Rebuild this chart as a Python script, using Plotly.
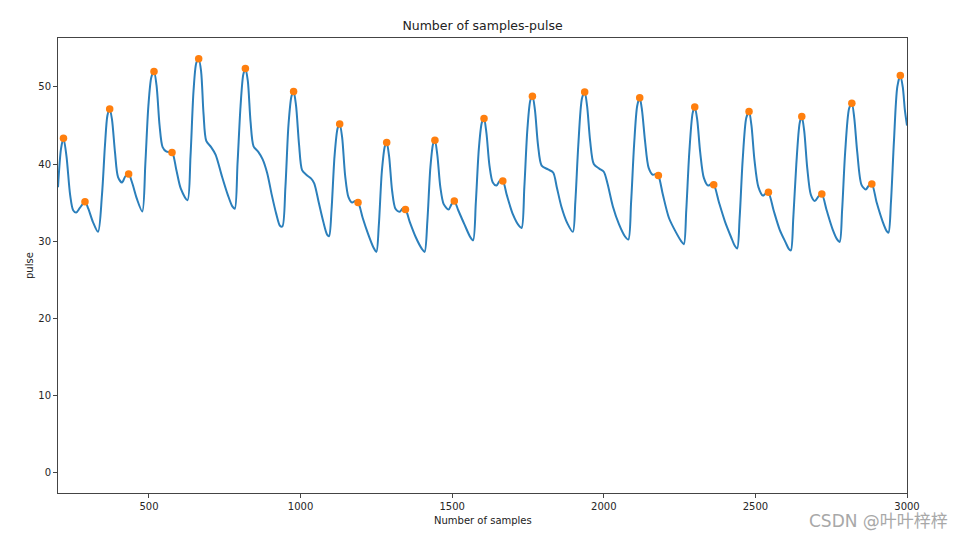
import plotly.graph_objects as go

# pulse waveform samples
sample_x = [200, 210, 218, 228, 240, 250, 260, 272, 289, 300, 315, 332, 345, 355, 363, 370.5, 378, 388, 398, 411, 422, 433, 445, 460, 478,
            488, 498, 508, 516.6, 525, 535, 545, 558, 576, 590, 605, 627, 637, 647, 656, 664, 672, 680, 689, 705, 720, 740, 760, 775, 783,
            792, 802, 811, 818, 826, 835, 845, 860, 875, 890, 905, 920, 932, 940, 950, 960, 970, 977, 985, 995, 1005, 1019, 1035, 1045,
            1060, 1075, 1088, 1094, 1102, 1112, 1122, 1129, 1137, 1147, 1158, 1170, 1180, 1190, 1205, 1222, 1240, 1250, 1258, 1268, 1278,
            1284, 1292, 1302, 1313, 1327, 1336, 1346, 1360, 1380, 1400, 1409, 1418, 1428, 1437, 1443, 1451, 1461, 1472, 1488, 1498, 1507,
            1520, 1540, 1560, 1569, 1578, 1588, 1598, 1605, 1613, 1623, 1634, 1646, 1657, 1667, 1680, 1700, 1720, 1729, 1738, 1748, 1758,
            1765, 1773, 1783, 1795, 1816, 1833, 1845, 1860, 1880, 1898, 1906, 1916, 1928, 1937, 1945, 1955, 1967, 1985, 2000, 2012, 2030,
            2050, 2070, 2081, 2090, 2100, 2110, 2118.5, 2126, 2136, 2148, 2162, 2172, 2180, 2195, 2215, 2240, 2255, 2264, 2272, 2282, 2293,
            2300, 2308, 2318, 2330, 2344, 2354, 2363, 2380, 2400, 2420, 2432, 2440, 2448, 2458, 2470, 2479, 2487, 2497, 2510, 2525, 2535,
            2543, 2560, 2580, 2600, 2610, 2617, 2625, 2635, 2646, 2653, 2661, 2671, 2683, 2696, 2708, 2719, 2735, 2755, 2770, 2778, 2786,
            2796, 2809, 2818, 2826, 2836, 2850, 2864, 2874, 2884, 2900, 2920, 2933, 2939, 2947, 2957, 2968, 2978, 2986, 2993, 3000]
pulse = [37, 42.0, 43.35, 41, 36, 34.0, 33.7, 34.3, 35.1, 34.2, 32.5, 31.2, 36, 42.5, 46.3, 47.15, 45.8, 41.5, 38.3, 37.6, 38.4, 38.7, 37.5, 35.5, 33.85,
         40, 47.5, 51.3, 52.0, 50.2, 45, 42.2, 41.6, 41.5, 39.3, 36.8, 35.3, 41, 49.5, 53.1, 53.67, 52, 46.5, 43.0, 42.2, 41.2, 38.5, 36.0, 34.5, 34.2,
         40, 47.5, 51.6, 52.4, 50.8, 45.5, 42.3, 41.6, 40.6, 38.8, 36, 33.5, 32.0, 31.9, 37, 45, 48.8, 49.4, 47.6, 42.5, 39.2, 38.6, 38.1, 37.5,
         35, 32.5, 30.8, 30.65, 34, 41, 44.6, 45.2, 43.5, 38.5, 35.7, 35.0, 35.2, 35.0, 33, 31, 29.2, 28.6, 32, 39, 42.3,
         42.8, 41, 36.5, 34.2, 33.8, 34.2, 34.1, 32.5, 30.5, 29, 28.6, 32.5, 39.5, 42.6, 43.1, 41.2, 37, 34.8, 34.1, 34.8, 35.2,
         34, 32.2, 30.5, 30.1, 35, 42, 45.4, 45.9, 44, 39.8, 37.6, 37.2, 37.8, 37.8, 36, 33.5, 32, 31.7, 37, 44.5, 48.3,
         48.8, 47, 42.5, 39.8, 39.3, 38.9, 37, 34.5, 32.3, 31.2, 35, 42.5, 48.5, 49.35, 47.5, 43, 40, 39.4, 39.0, 37.5, 34.5,
         32.2, 30.6, 30.2, 35, 42.5, 47.5, 48.6, 47, 43, 39.5, 38.6, 38.7, 38.5, 36, 33, 31, 30, 29.6, 34, 41.5, 46.6,
         47.4, 45.8, 41.5, 38.2, 37.2, 37.4, 37.3, 35, 32.5, 30.5, 29.4, 29.05, 33, 40.5, 46, 46.8, 45, 40.5, 37, 35.9, 36.2,
         36.3, 34, 31.5, 29.8, 29, 28.8, 33, 40, 45.3, 46.15, 44.3, 39.5, 36.0, 35.2, 35.8, 36.1, 34, 31.5, 30.2, 29.9, 34,
         41.5, 47.2, 47.9, 46, 41.5, 37.3, 36.7, 37.2, 37.4, 35, 32.5, 31.3, 31.1, 35, 43, 50, 51.5, 50, 47, 45]

# detected peaks (orange markers)
peak_x = [218, 289, 370.5, 433, 516.6, 576, 664, 818, 977, 1129, 1189.5, 1284, 1345.8, 1443, 1507, 1605, 1667, 1764.6, 1937,
          2118.5, 2180, 2300, 2362.6, 2479, 2543, 2653, 2719, 2818, 2884, 2978]
peak_y = [43.35, 35.1, 47.15, 38.7, 52.0, 41.5, 53.67, 52.4, 49.4, 45.2, 35.0, 42.8, 34.1, 43.1, 35.2, 45.9, 37.8, 48.8, 49.35,
          48.6, 38.5, 47.4, 37.3, 46.8, 36.35, 46.15, 36.1, 47.9, 37.4, 51.5]

x_ticks = [500, 1000, 1500, 2000, 2500, 3000]
y_ticks = [0, 10, 20, 30, 40, 50]

FONT = "DejaVu Sans"
fig = go.Figure()
fig.add_trace(go.Scatter(x=sample_x, y=pulse, mode="lines",
                         line=dict(color="#2b7fbb", width=2, shape="spline", smoothing=0.8),
                         showlegend=False, hoverinfo="skip"))
fig.add_trace(go.Scatter(x=peak_x, y=peak_y, mode="markers",
                         marker=dict(color="#ff7f0e", size=7.5, line=dict(width=0)),
                         showlegend=False, hoverinfo="skip"))

axis_common = dict(showgrid=False, zeroline=False, showline=True, linecolor="#444", linewidth=1,
                   mirror=True, ticks="outside", ticklen=4, tickwidth=1, tickcolor="#444",
                   tickfont=dict(family=FONT, size=10, color="#262626"))
fig.update_xaxes(range=[200, 3000], tickvals=x_ticks, ticktext=[str(v) for v in x_ticks], **axis_common)
fig.update_yaxes(range=[-2.68, 56.35], tickvals=y_ticks, ticktext=[str(v) for v in y_ticks], **axis_common)

fig.update_layout(
    width=966, height=537, autosize=False,
    margin=dict(l=58, r=59, t=38, b=44),
    paper_bgcolor="white", plot_bgcolor="white",
    title=dict(text="Number of samples-pulse", x=0.5, xanchor="center", xref="paper",
               y=1 - 26 / 537, yref="container", yanchor="middle",
               font=dict(family=FONT, size=12.5, color="#222")),
    annotations=[
        dict(text="Number of samples", xref="paper", yref="paper", x=0.5, y=-27 / 455,
             xanchor="center", yanchor="middle", showarrow=False,
             font=dict(family=FONT, size=10, color="#222")),
        dict(text="pulse", xref="paper", yref="paper", x=-28.5 / 849, y=0.5, textangle=-90,
             xanchor="center", yanchor="middle", showarrow=False,
             font=dict(family=FONT, size=10, color="#222")),
        dict(text="CSDN @叶叶梓梓", xref="paper", yref="paper", x=(950 - 58) / 849, y=-(521 - 493) / 455,
             xanchor="right", yanchor="middle", showarrow=False,
             font=dict(family="DejaVu Sans, Noto Sans CJK SC", size=17, color="#a8a8a8")),
    ],
)

fig.write_html("out.html")
